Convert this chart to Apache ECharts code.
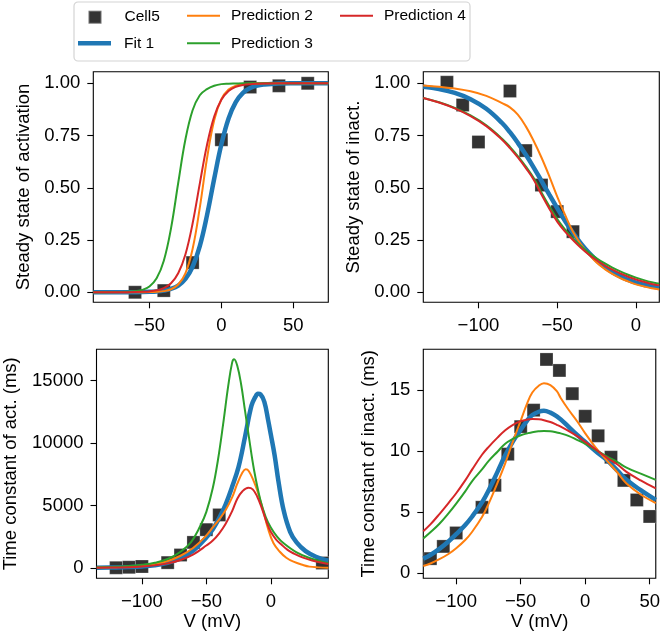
<!DOCTYPE html>
<html><head><meta charset="utf-8">
<script src="https://cdn.jsdelivr.net/npm/echarts@6/dist/echarts.min.js"></script>
<style>html,body{margin:0;padding:0;background:#fff}#c{width:663px;height:636px}</style>
</head><body><div id="c"></div>
<script>
// ---------- Panel 1: steady state of activation ----------
const actCellV = [-60, -40, -20, 0, 20, 40, 60];
const actCell = [0.0, 0.008, 0.142, 0.73, 0.982, 0.988, 1.0];
const actV = [-89,-70,-60,-55,-50,-45,-40,-35,-30,-25,-20,-15,-10,-5,0,5,10,15,20,25,30,40,50,74.3];
const actFit1 = [0,0.0001,0.0005,0.0009,0.0019,0.0039,0.008,0.016,0.032,0.064,0.122,0.221,0.368,0.543,0.708,0.832,0.91,0.954,0.977,0.989,0.994,0.9986,0.9997,1];
const actPred2 = [0,0,0.0001,0.0003,0.0008,0.0021,0.0055,0.0143,0.037,0.09,0.207,0.405,0.64,0.823,0.924,0.97,0.988,0.995,0.998,0.9993,1,1,1,1];
const actPred3 = [0,0.0008,0.0047,0.0115,0.028,0.067,0.151,0.306,0.523,0.731,0.871,0.943,0.972,0.988,0.996,0.998,0.999,1,1,1,1,1,1,1];
const actPred4 = [0,0.0002,0.0009,0.0019,0.004,0.0092,0.02,0.043,0.091,0.181,0.329,0.52,0.705,0.841,0.921,0.963,0.983,0.992,0.996,0.998,0.999,1,1,1];

// ---------- Panel 2: steady state of inactivation ----------
const inaCellV = [-120, -110, -100, -80, -70, -60, -50, -40];
const inaCell = [1.005, 0.896, 0.719, 0.963, 0.678, 0.513, 0.386, 0.29];
const inaV = [-135,-125,-115,-105,-95,-85,-80,-75,-70,-65,-60,-55,-50,-45,-40,-35,-30,-25,-20,-15,-10,-5,0,5,10,14.8];
const inaFit1 = [0.983,0.972,0.954,0.924,0.878,0.81,0.766,0.715,0.659,0.598,0.533,0.467,0.403,0.341,0.285,0.234,0.19,0.153,0.122,0.096,0.076,0.059,0.046,0.036,0.028,0.022];
const inaPred2 = [0.99,0.984,0.975,0.962,0.94,0.905,0.885,0.85,0.795,0.725,0.645,0.555,0.458,0.37,0.29,0.23,0.183,0.142,0.112,0.088,0.068,0.052,0.038,0.028,0.019,0.013];
const inaPred3 = [0.93,0.909,0.882,0.846,0.799,0.735,0.696,0.652,0.603,0.548,0.478,0.412,0.35,0.3,0.258,0.222,0.19,0.163,0.139,0.118,0.1,0.084,0.07,0.058,0.048,0.041];
const inaPred4 = [0.93,0.908,0.88,0.843,0.795,0.73,0.69,0.645,0.595,0.54,0.468,0.4,0.338,0.29,0.25,0.213,0.181,0.153,0.129,0.108,0.09,0.074,0.061,0.05,0.04,0.033];

// ---------- Panel 3: time constant of activation ----------
const tauActCellV = [-120, -110, -100, -80, -70, -60, -50, -40, 40];
const tauActCell = [20, 60, 120, 430, 1040, 2050, 3070, 4250, 400];
const tauActFit1V = [-135,-120,-110,-100,-90,-80,-70,-60,-50,-45,-40,-35,-30,-25,-20,-15,-12,-10,-8,-5,-2,0,3,6,10,15,20,27,35,44.6];
const tauActFit1 = [15,40,70,120,220,420,780,1400,2450,3100,4000,5100,6500,8100,10500,13000,13700,13950,13900,13300,11800,10700,9000,6900,4600,2900,2050,1350,900,585];
const tauActPred2V = [-135,-120,-110,-100,-90,-80,-70,-60,-50,-45,-40,-35,-30,-26,-22,-19.5,-17,-13,-10,-6,-2,2,7,12,17.6,25,30,37,44.6];
const tauActPred2 = [40,70,105,180,320,560,980,1620,2600,3250,3900,4650,5650,6750,7650,7900,7750,6900,6050,4650,3100,2000,1300,820,505,240,110,50,20];
const tauActPred3V = [-135,-120,-110,-100,-90,-80,-70,-62,-55,-50,-45,-41,-37,-33,-30,-28.5,-26,-23,-20,-17,-13,-8,-4,0,5,10,20,30,44.6];
const tauActPred3 = [50,100,160,260,420,720,1300,2050,3300,4500,6400,8650,11500,14600,16450,16720,16200,14700,12600,10500,7850,5400,4100,3250,2500,1980,1250,800,375];
const tauActPred4V = [-135,-120,-110,-100,-90,-80,-70,-60,-50,-45,-40,-35,-30,-26,-22,-17.4,-14,-10.5,-7,-3,0,4,8,13,18,25,32,44.6];
const tauActPred4 = [20,40,60,120,210,370,640,1100,1800,2200,2780,3550,4550,5550,6150,6430,6300,5710,4800,3600,2900,2300,1900,1450,1150,830,600,320];

// ---------- Panel 4: time constant of inactivation ----------
const tauInaCellV = [-120,-110,-100,-80,-70,-60,-50,-40,-30,-20,-10,0,10,20,30,40,50];
const tauInaCell = [1.2,2.2,3.3,5.4,7.2,9.75,12.0,13.35,17.5,16.6,14.7,12.85,11.25,9.5,7.6,6.0,4.65];
const tauInaV = [-125.5,-120,-113,-106,-100,-93,-87.6,-80,-74.8,-68,-62,-56,-50,-45,-41,-36,-32,-27,-22,-19,-13,-6,0,8,17,25,32,43,54.7];
const tauInaFit1 = [1.2,1.5,2.0,2.6,3.2,3.95,4.65,5.8,6.8,8.3,9.65,10.8,11.75,12.5,12.95,13.22,13.3,13.15,12.85,12.6,12.0,11.3,10.75,10.0,9.25,8.4,7.65,6.8,6.0];
const tauInaPred2 = [0.6,0.8,1.15,1.58,2.05,2.72,3.4,4.6,5.7,7.4,9.0,10.8,12.5,13.9,14.8,15.35,15.55,15.4,14.9,14.35,13.4,12.4,11.45,10.3,9.2,8.25,7.35,6.45,5.75];
const tauInaPred3 = [2.85,3.35,4.05,4.9,5.7,6.7,7.55,8.5,9.2,9.95,10.6,11.0,11.3,11.45,11.55,11.62,11.65,11.62,11.52,11.45,11.25,10.9,10.6,10.1,9.55,9.1,8.65,8.15,7.65];
const tauInaPred4 = [3.45,4.0,4.85,5.75,6.55,7.6,8.5,9.7,10.35,11.1,11.7,12.15,12.45,12.58,12.62,12.6,12.53,12.38,12.15,12.0,11.65,11.2,10.75,10.15,9.45,8.9,8.3,7.6,6.95];

// ---------- tick labels ----------
const actXTicks = [-50, 0, 50];
const inaXTicks = [-100, -50, 0];
const tauActXTicks = [-100, -50, 0];
const tauInaXTicks = [-100, -50, 0, 50];
const ssYTicks = [0, 0.25, 0.5, 0.75, 1];
const tauActYTicks = [0, 5000, 10000, 15000];
const tauInaYTicks = [0, 5, 10, 15];

const FONT = "'Liberation Sans', Arial, Helvetica, sans-serif";
const COL = {fit: '#1f77b4', p2: '#ff7f0e', p3: '#2ca02c', p4: '#d62728', cell: '#333333'};
const zip = (a, b) => a.map((v, i) => [v, b[i]]);
const minus = s => String(s).replace('-', '\u2212');

const gridDefs = [
  {left: 93.3, top: 71.7, width: 235, height: 230.6},
  {left: 423.3, top: 71.7, width: 236, height: 230.6},
  {left: 93.3, top: 349.3, width: 235, height: 229},
  {left: 423.3, top: 349.3, width: 236, height: 229}
].map(g => Object.assign({show: true, borderColor: '#000', borderWidth: 1.1, backgroundColor: 'rgba(0,0,0,0)'}, g));

function xAx(i, min, max, ticks, name) {
  return {
    type: 'value', gridIndex: i, min: min, max: max,
    axisLine: {show: false, onZero: false},
    splitLine: {show: false},
    axisTick: {show: true, inside: false, length: 6, lineStyle: {color: '#000', width: 1.1}, customValues: ticks},
    axisLabel: {customValues: ticks, margin: 14, fontSize: 18.5, fontFamily: FONT, color: '#000', formatter: v => minus(v)},
    name: name, nameLocation: 'middle', nameGap: 32.5,
    nameTextStyle: {fontSize: 18.5, fontFamily: FONT, color: '#000'}
  };
}
function yAx(i, min, max, ticks, fmt, name, gap) {
  return {
    type: 'value', gridIndex: i, min: min, max: max,
    axisLine: {show: false, onZero: false},
    splitLine: {show: false},
    axisTick: {show: true, inside: false, length: 6, lineStyle: {color: '#000', width: 1.1}, customValues: ticks},
    axisLabel: {customValues: ticks, margin: 13, fontSize: 18.5, fontFamily: FONT, color: '#000', formatter: fmt},
    name: name, nameLocation: 'middle', nameGap: gap,
    nameTextStyle: {fontSize: 18.5, fontFamily: FONT, color: '#000'}
  };
}

function scat(i, v, y) {
  return {type: 'scatter', name: 'Cell5', xAxisIndex: i, yAxisIndex: i, data: zip(v, y),
    symbol: 'rect', symbolSize: 13,
    itemStyle: {color: COL.cell, opacity: 1, borderColor: 'rgba(255,255,255,0.3)', borderWidth: 0.8}};
}
function ln(i, name, color, width, v, y) {
  return {type: 'line', name: name, xAxisIndex: i, yAxisIndex: i, data: zip(v, y),
    symbol: 'none', smooth: 0.4, clip: true,
    lineStyle: {color: color, width: width}, itemStyle: {color: color}};
}
function panel(i, cv, c, fv, f, p2v, p2, p3v, p3, p4v, p4) {
  return [scat(i, cv, c), ln(i, 'Fit 1', COL.fit, 4.5, fv, f),
    ln(i, 'Prediction 2', COL.p2, 2, p2v, p2),
    ln(i, 'Prediction 3', COL.p3, 2, p3v, p3),
    ln(i, 'Prediction 4', COL.p4, 2, p4v, p4)];
}

function leg(name, icon, left, top, h, color, pad) {
  return {padding: 0, itemGap: 0, selectedMode: false,
    textStyle: {fontFamily: FONT, fontSize: 15.5, color: '#000', lineHeight: 16, padding: [0, 0, 0, pad]},
    data: [{name: name, icon: icon, itemStyle: {color: color, opacity: 1}}],
    left: left, top: top, itemWidth: 33, itemHeight: h};
}

const option = {
  animation: false,
  backgroundColor: '#fff',
  graphic: [{type: 'rect', silent: true, z: 0,
    shape: {x: 74, y: 2, width: 396, height: 59, r: 4},
    style: {fill: 'rgba(255,255,255,0.8)', stroke: '#d4d4d4', lineWidth: 1.2}}],
  legend: [
    leg('Cell5', 'path://M0 0H13V13H0Z', 87.5, 9.2, 13, COL.cell, 8),
    leg('Fit 1', 'path://M0 0H33V4.5H0Z', 78, 35.3, 16, COL.fit, 8),
    leg('Prediction 2', 'path://M0 0H33V2H0Z', 187, 7.7, 16, COL.p2, 6),
    leg('Prediction 3', 'path://M0 0H33V2H0Z', 187, 35.3, 16, COL.p3, 6),
    leg('Prediction 4', 'path://M0 0H33V2H0Z', 340, 7.7, 16, COL.p4, 6)
  ],
  grid: gridDefs,
  xAxis: [
    xAx(0, -89, 74.3, actXTicks, ''),
    xAx(1, -135, 14.8, inaXTicks, ''),
    xAx(2, -135.2, 44.6, tauActXTicks, 'V (mV)'),
    xAx(3, -125.5, 54.7, tauInaXTicks, 'V (mV)')
  ],
  yAxis: [
    yAx(0, -0.048, 1.0555, ssYTicks, v => v.toFixed(2), 'Steady state of activation', 59.5),
    yAx(1, -0.048, 1.0555, ssYTicks, v => v.toFixed(2), 'Steady state of inact.', 60),
    yAx(2, -825, 17516, tauActYTicks, v => String(v), 'Time constant of act. (ms)', 76.5),
    yAx(3, -0.41, 18.33, tauInaYTicks, v => String(v), 'Time constant of inact. (ms)', 45)
  ],
  series: [].concat(
    panel(0, actCellV, actCell, actV, actFit1, actV, actPred2, actV, actPred3, actV, actPred4),
    panel(1, inaCellV, inaCell, inaV, inaFit1, inaV, inaPred2, inaV, inaPred3, inaV, inaPred4),
    panel(2, tauActCellV, tauActCell, tauActFit1V, tauActFit1, tauActPred2V, tauActPred2, tauActPred3V, tauActPred3, tauActPred4V, tauActPred4),
    panel(3, tauInaCellV, tauInaCell, tauInaV, tauInaFit1, tauInaV, tauInaPred2, tauInaV, tauInaPred3, tauInaV, tauInaPred4)
  )
};
const chart = echarts.init(document.getElementById('c'), null, {renderer: 'canvas'});
chart.setOption(option);
</script></body></html>
